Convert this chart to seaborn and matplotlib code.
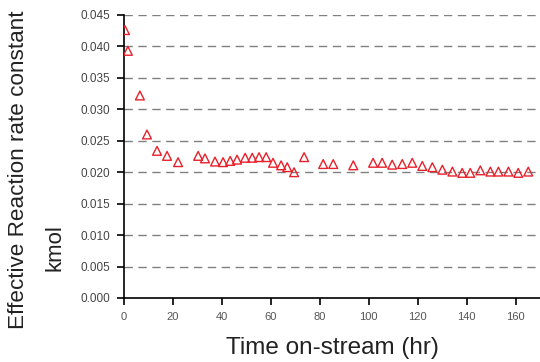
import matplotlib
matplotlib.use("Agg")
import matplotlib.pyplot as plt
import seaborn as sns
import pandas as pd

time_hr = [0.4, 1.6, 6.5, 9.4, 13.5, 17.6, 22.1, 30.3, 33.1, 37.2, 40.5, 43.4,
           46.2, 49.5, 52.4, 55.2, 58.1, 60.9, 64.2, 66.7, 69.5, 73.6, 81.4,
           85.5, 93.7, 101.8, 105.5, 109.6, 113.7, 117.8, 121.9, 126.0, 130.1,
           134.2, 138.2, 141.5, 145.6, 149.7, 153.0, 157.1, 161.1, 165.2]
k_mol = [0.0426, 0.0393, 0.0322, 0.0260, 0.0234, 0.0226, 0.0216, 0.0226,
         0.0222, 0.0217, 0.0216, 0.0218, 0.0220, 0.0223, 0.0223, 0.0224,
         0.0224, 0.0215, 0.0211, 0.0208, 0.0200, 0.0224, 0.0213, 0.0213,
         0.0211, 0.0215, 0.0215, 0.0212, 0.0213, 0.0215, 0.0210, 0.0208,
         0.0204, 0.0201, 0.0199, 0.0199, 0.0203, 0.0201, 0.0201, 0.0201,
         0.0199, 0.0201]
y_ticks = [0.000, 0.005, 0.010, 0.015, 0.020, 0.025, 0.030, 0.035, 0.040, 0.045]
x_ticks = [0, 20, 40, 60, 80, 100, 120, 140, 160]

df = pd.DataFrame({"t": time_hr, "k": k_mol})

sns.set_style("white")
plt.rcParams["font.family"] = ["Liberation Sans", "DejaVu Sans"]

fig = plt.figure(figsize=(5.40, 3.62), dpi=100)
ax = fig.add_axes([0.2296, 0.1768, 0.7704, 0.7818])

sns.scatterplot(data=df, x="t", y="k", ax=ax, marker="^", s=40,
                facecolors="none", edgecolor="#e8202a", linewidth=1.0,
                zorder=3)

ax.set_xlim(0, 170)
ax.set_ylim(0, 0.045)
ax.set_xticks(x_ticks)
ax.set_yticks(y_ticks)
ax.set_xticklabels([str(v) for v in x_ticks], fontsize=8, color="#555555")
ax.set_yticklabels([f"{v:.3f}" for v in y_ticks], fontsize=8.5, color="#444444")

for v in y_ticks[1:]:
    ax.axhline(v, color="#808080", linestyle=(0, (6, 4)), linewidth=1.0, zorder=1)

for side in ["top", "right"]:
    ax.spines[side].set_visible(False)
for side in ["left", "bottom"]:
    ax.spines[side].set_color("black")
    ax.spines[side].set_linewidth(1.2)

ax.tick_params(axis="both", direction="out", length=5, width=1.2,
               color="black", bottom=True, left=True, pad=5)

ax.set_xlabel("Time on-stream (hr)", fontsize=17.5, color="#222222", labelpad=11)
ax.set_ylabel("")

fig.text(0.034, 0.53, "Effective Reaction rate constant", rotation=90,
         ha="center", va="center", fontsize=16.2, color="#222222")
fig.text(0.102, 0.315, "kmol", rotation=90, ha="center", va="center",
         fontsize=16, color="#222222")

fig.savefig("out.png", dpi=100, facecolor="white")
